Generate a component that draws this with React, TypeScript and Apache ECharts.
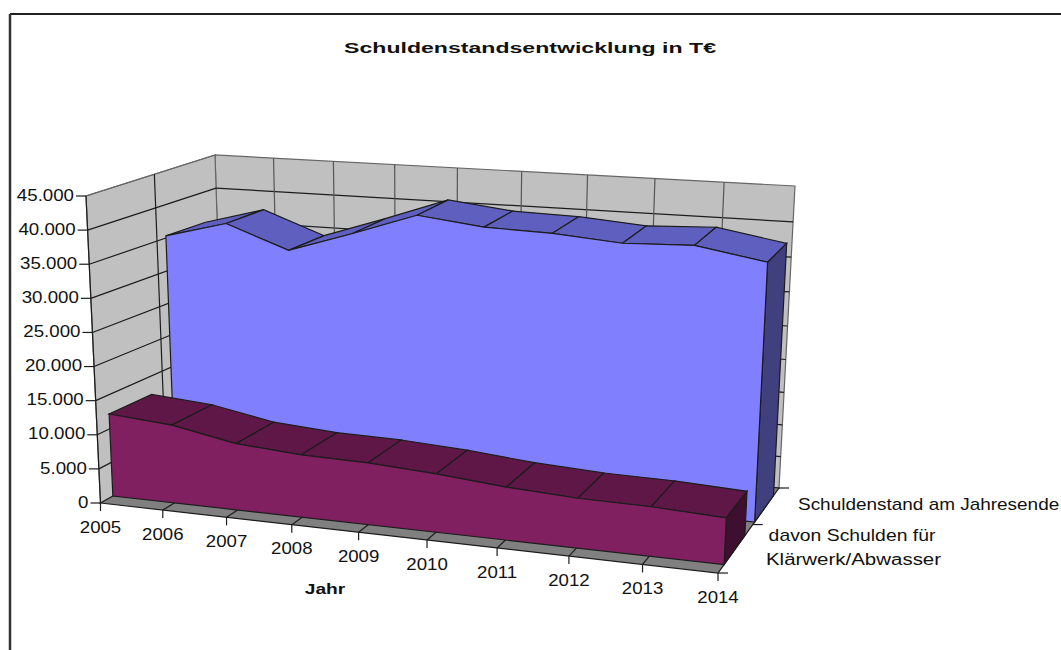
import React, { useEffect, useRef } from "react";
import * as echarts from "echarts";

const categories = ["2005","2006","2007","2008","2009","2010","2011","2012","2013","2014"];
const debtTotal = [35350,37850,34500,37650,41000,39940,39720,39000,39400,37750];
const debtSewage = [12200,11500,9750,9100,8950,8400,7550,7050,6950,6500];
const valueTicks = [0,5000,10000,15000,20000,25000,30000,35000,40000,45000];
const seriesNames = ["Schuldenstand am Jahresende","davon Schulden für\nKlärwerk/Abwasser"];

const FONT = "'Liberation Sans', Arial, sans-serif";
const GRID = { left: 100, width: 618, top: 196, height: 307 };
// projected corners of the 3D box: front/back, left/right, bottom/top
const C = {
  flb: [100.5, 503], frb: [718, 573], blb: [224, 433], brb: [779, 488],
  flt: [86, 196], frt: [733, 246], blt: [215, 155], brt: [795, 186],
};
const warpX = (t: number) => t / (t + 1.114 * (1 - t));
const warpV = (t: number, z: number) => { const k = 1 + 0.08 * z; return t / (t + k * (1 - t)); };
const lerp = (a: number[], b: number[], t: number) => [a[0] + (b[0] - a[0]) * t, a[1] + (b[1] - a[1]) * t];
function project(u: number, v: number, z: number) {
  const x = warpX(u); const y = warpV(v, z);
  const fb = lerp(C.flb, C.frb, x), ft = lerp(C.flt, C.frt, x);
  const bb = lerp(C.blb, C.brb, x), bt = lerp(C.blt, C.brt, x);
  return lerp(lerp(fb, ft, y), lerp(bb, bt, y), z);
}
const LINE = "#1c1c1c";
const LW = 1.2;

function poly(points: number[][], fill: string | null, stroke = LINE, lineWidth = LW) {
  return { type: "polygon", shape: { points }, style: { fill: fill || "none", stroke, lineWidth } };
}
function seg(a: number[], b: number[], stroke = LINE, lineWidth = LW) {
  return { type: "line", shape: { x1: a[0], y1: a[1], x2: b[0], y2: b[1] }, style: { stroke, lineWidth } };
}
function txt(s: string, x: number, y: number, align: string, size: number, scaleX = 1, weight = "normal", family = FONT) {
  return {
    type: "text", x, y, scaleX,
    style: { text: s, fill: "#111", font: `${weight} ${size}px ${family}`, textAlign: align, textVerticalAlign: "middle", textBaseline: "middle" },
  };
}

function makeCoords(api: any) {
  const uv = (i: number, val: number) => {
    const p = api.coord([i, val]);
    return [(p[0] - GRID.left) / GRID.width, (GRID.top + GRID.height - p[1]) / GRID.height];
  };
  return (i: number, val: number, z: number) => { const q = uv(i, val); return project(q[0], q[1], z); };
}

function renderFrame(params: any, api: any) {
  if (params.dataIndex !== 0) return null;
  const P = makeCoords(api);
  const n = categories.length - 1; const top = 45000;
  const ch: any[] = [];
  ch.push(poly([P(0, 0, 1), P(n, 0, 1), P(n, top, 1), P(0, top, 1)], "#C0C0C0", "#666"));
  ch.push(poly([P(0, 0, 0), P(0, 0, 1), P(0, top, 1), P(0, top, 0)], "#C0C0C0", "#666"));
  ch.push(poly([P(0, 0, 0), P(n, 0, 0), P(n, 0, 1), P(0, 0, 1)], "#808080", LINE));
  valueTicks.forEach((t) => {
    if (t !== 0 && t !== top) { ch.push(seg(P(0, t, 0), P(0, t, 1))); ch.push(seg(P(0, t, 1), P(n, t, 1))); }
    const a = P(0, t, 0);
    ch.push(seg([a[0] - 10, a[1]], a));
    const s = t === 0 ? "0" : (t / 1000).toFixed(0) + ".000";
    ch.push(txt(s, a[0] - 12, a[1] - 1, "right", 17, 1.1));
  });
  categories.forEach((c, i) => {
    if (i > 0 && i < n) ch.push(seg(P(i, 0, 1), P(i, top, 1), "#555"));
    if (i > 0 && i < n) ch.push(seg(P(i, 0, 0), P(i, 0, 1)));
    const a = P(i, 0, 0);
    ch.push(seg(a, [a[0], a[1] + 8]));
    ch.push(txt(c, a[0], a[1] + 24, "center", 16.5, 1.13));
  });
  ch.push(seg(P(0, top, 0), P(0, top, 1), "#666"));
  ch.push(seg(P(0, 0, 0), P(0, top, 0)));
  // left-wall mid vertical
  const midA = lerp(C.flt, C.blt, 0.53), midB = lerp(C.flb, C.blb, 0.53);
  ch.push(seg(midA, midB));
  // depth ticks on the right floor edge
  [0, 0.57, 1].forEach((z) => { const a = P(n, 0, z); ch.push(seg(a, [a[0] + 10, a[1]])); });
  return { type: "group", children: ch };
}

function areaRenderer(values: number[], zf: number, zb: number, front: string, top: string, side: string) {
  return (params: any, api: any) => {
    if (params.dataIndex !== 0) return null;
    const P = makeCoords(api);
    const n = values.length - 1;
    const ch: any[] = [];
    for (let i = 0; i < n; i++) {
      ch.push(poly([P(i, values[i], zf), P(i + 1, values[i + 1], zf), P(i + 1, values[i + 1], zb), P(i, values[i], zb)], top));
    }
    ch.push(poly([P(n, 0, zf), P(n, values[n], zf), P(n, values[n], zb), P(n, 0, zb)], side));
    const pts = [P(0, 0, zf)];
    values.forEach((v, i) => pts.push(P(i, v, zf)));
    pts.push(P(n, 0, zf));
    ch.push(poly(pts, front));
    return { type: "group", children: ch };
  };
}

function renderLabels(params: any) {
  if (params.dataIndex !== 0) return null;
  const l2 = seriesNames[1].split("\n");
  return {
    type: "group",
    children: [
      txt("Schuldenstandsentwicklung in T€", 530, 47, "center", 15.5, 1.49, "bold"),
      txt("Jahr", 325, 589, "center", 15.5, 1.24, "bold"),
      txt(seriesNames[0], 798, 505, "left", 16, 1.185),
      txt(l2[0], 852, 536, "center", 16, 1.21),
      txt(l2[1], 853.5, 559, "center", 16, 1.28),
    ],
  };
}

export default function App() {
  const ref = useRef<HTMLDivElement>(null);
  useEffect(() => {
    const chart = echarts.init(ref.current!, undefined, { renderer: "svg" });
    const custom = (name: string, data: number[], renderItem: any) => ({
      type: "custom", name, data: data.map((v, i) => [i, v]), renderItem, coordinateSystem: "cartesian2d", silent: true, clip: false,
    });
    chart.setOption({
      animation: false,
      backgroundColor: "#fff",
      grid: { ...GRID },
      xAxis: { type: "category", data: categories, boundaryGap: false, show: false },
      yAxis: { type: "value", min: 0, max: 45000, interval: 5000, show: false },
      graphic: [
        { type: "line", shape: { x1: 10, y1: 14, x2: 1061, y2: 14 }, style: { stroke: "#222", lineWidth: 2 } },
        { type: "line", shape: { x1: 10, y1: 14, x2: 10, y2: 650 }, style: { stroke: "#333", lineWidth: 2.5 } },
      ],
      series: [
        custom("frame", debtTotal, renderFrame),
        custom(seriesNames[0], debtTotal, areaRenderer(debtTotal, 0.6, 0.91, "#8080FF", "#5F5FBF", "#40407F")),
        custom(seriesNames[1], debtSewage, areaRenderer(debtSewage, 0.1, 0.44, "#802060", "#5F1747", "#3F0F2F")),
        custom("labels", debtTotal, renderLabels),
      ],
    });
    return () => chart.dispose();
  }, []);
  return <div ref={ref} style={{ position: "absolute", left: 0, top: 0, width: 1061, height: 650 }} />;
}
